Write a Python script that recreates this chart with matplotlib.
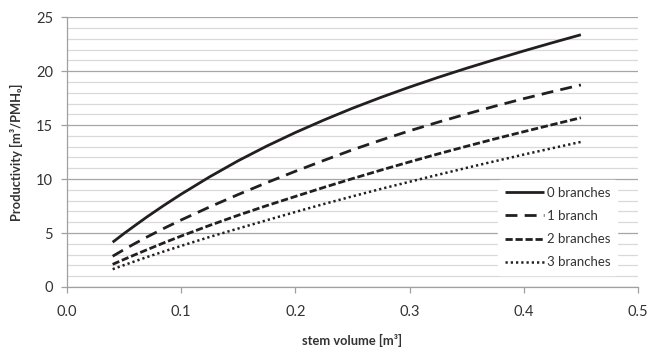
import numpy as np
import matplotlib
matplotlib.use("Agg")
import matplotlib.pyplot as plt
from matplotlib.ticker import MultipleLocator

plt.rcParams['font.family'] = ['Lato', 'DejaVu Sans']

# values
stem_volume = [0.04, 0.05, 0.06, 0.07, 0.085, 0.10, 0.125, 0.15, 0.175, 0.20, 0.225,
               0.25, 0.275, 0.30, 0.325, 0.35, 0.375, 0.40, 0.425, 0.45]
branches_0 = [4.15, 4.96, 5.73, 6.49, 7.57, 8.60, 10.21, 11.70, 13.06, 14.31, 15.47,
              16.56, 17.57, 18.52, 19.42, 20.27, 21.08, 21.87, 22.63, 23.37]
branches_1 = [2.85, 3.47, 4.06, 4.63, 5.44, 6.21, 7.42, 8.57, 9.67, 10.72, 11.73,
              12.71, 13.61, 14.47, 15.27, 16.03, 16.76, 17.45, 18.10, 18.72]
branches_2 = [2.10, 2.56, 3.01, 3.45, 4.10, 4.72, 5.71, 6.65, 7.54, 8.39, 9.23,
              10.04, 10.83, 11.59, 12.33, 13.04, 13.73, 14.39, 15.04, 15.68]
branches_3 = [1.65, 2.03, 2.40, 2.77, 3.30, 3.81, 4.64, 5.42, 6.19, 6.95, 7.69,
              8.40, 9.09, 9.75, 10.40, 11.04, 11.66, 12.27, 12.86, 13.44]
labels = ["0 branches", "1 branch", "2 branches", "3 branches"]

fig = plt.figure(figsize=(6.49, 3.5), dpi=100)
ax = fig.add_axes([0.1032, 0.18, 0.8798, 0.771])

c = '#231f20'
ax.plot(stem_volume, branches_0, color=c, lw=2.0, solid_capstyle='butt', label=labels[0])
ax.plot(stem_volume, branches_1, color=c, lw=2.0, dashes=(4.3, 2.6), label=labels[1])
ax.plot(stem_volume, branches_2, color=c, lw=2.0, dashes=(2.6, 1.0), label=labels[2])
ax.plot(stem_volume, branches_3, color=c, lw=1.8, dashes=(0.9, 1.2), label=labels[3])

ax.set_xlim(0, 0.5)
ax.set_ylim(0, 25)
ax.xaxis.set_major_locator(MultipleLocator(0.1))
ax.yaxis.set_major_locator(MultipleLocator(5))
ax.yaxis.set_minor_locator(MultipleLocator(1))
ax.xaxis.set_major_formatter(matplotlib.ticker.FormatStrFormatter('%.1f'))

ax.grid(axis='y', which='major', color='#a6a6a6', lw=0.9)
ax.grid(axis='y', which='minor', color='#d9d9d9', lw=0.9)
ax.set_axisbelow(True)

for s in ['top', 'right']:
    ax.spines[s].set_visible(False)
for s in ['left', 'bottom']:
    ax.spines[s].set_color('#a0a0a0')
    ax.spines[s].set_linewidth(0.9)

ax.tick_params(axis='both', which='major', color='#a0a0a0', length=4, width=0.9,
               labelsize=10.5, labelcolor='#333333', pad=6)
ax.tick_params(axis='y', which='minor', length=0)
ax.tick_params(axis='x', pad=9)

ax.set_xlabel("stem volume [m³]", fontsize=9.3, fontweight='bold', color='#333333', labelpad=11)
ax.set_ylabel("Productivity [m³/PMH₀]", fontsize=9.3, fontweight='bold', color='#333333', labelpad=9)

leg = ax.legend(loc='lower right', bbox_to_anchor=(0.975, 0.02), frameon=True, fontsize=9.5,
                handlelength=3.0, handletextpad=0.2, labelspacing=0.85, borderpad=0.5)
leg.get_frame().set_facecolor('white')
leg.get_frame().set_edgecolor('white')
leg.get_frame().set_alpha(1)
for t in leg.get_texts():
    t.set_color('#333333')

fig.savefig("out.png", dpi=100)
